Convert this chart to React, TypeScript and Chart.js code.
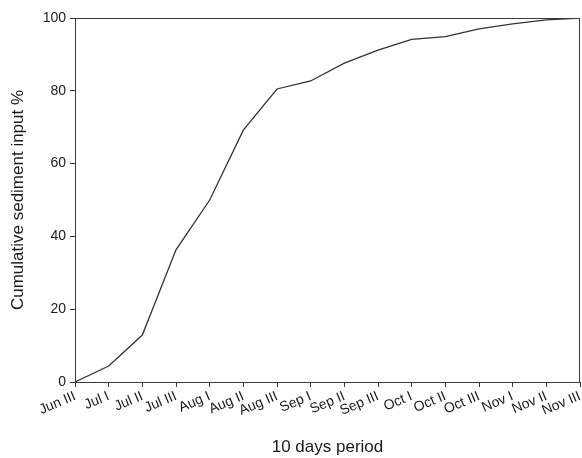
import React, { useEffect, useRef } from "react";
import { Chart, registerables } from "chart.js";

Chart.register(...registerables);

const periods = [
  "Jun III", "Jul I", "Jul II", "Jul III", "Aug I", "Aug II", "Aug III",
  "Sep I", "Sep II", "Sep III", "Oct I", "Oct II", "Oct III",
  "Nov I", "Nov II", "Nov III",
];
const cumulativeInput = [
  0, 4.4, 12.9, 36.3, 50, 69.2, 80.5, 82.7, 87.6, 91.2, 94.1, 94.9, 97.0, 98.4, 99.5, 100,
];
const yTicks = [0, 20, 40, 60, 80, 100];

const FONT = "'Liberation Sans', Arial, sans-serif";
const AXIS = "#3a3a3a";

const boxPlugin = {
  id: "frameBox",
  afterDatasetsDraw(chart: any) {
    const { ctx, chartArea } = chart;
    ctx.save();
    ctx.strokeStyle = AXIS;
    ctx.lineWidth = 1;
    ctx.beginPath();
    ctx.moveTo(chartArea.left, chartArea.top + 0.5);
    ctx.lineTo(chartArea.right, chartArea.top + 0.5);
    ctx.moveTo(chartArea.right - 0.5, chartArea.top);
    ctx.lineTo(chartArea.right - 0.5, chartArea.bottom);
    ctx.stroke();
    ctx.restore();
  },
};

export default function App() {
  const ref = useRef<HTMLCanvasElement>(null);
  useEffect(() => {
    document.body.style.margin = "0";
    const chart = new Chart(ref.current!, {
      type: "line",
      data: {
        labels: periods,
        datasets: [
          {
            data: cumulativeInput,
            borderColor: "#333333",
            borderWidth: 1.3,
            pointRadius: 0,
            fill: false,
            tension: 0,
          },
        ],
      },
      plugins: [boxPlugin],
      options: {
        animation: false,
        responsive: false,
        maintainAspectRatio: false,
        layout: { padding: { top: 18, right: 2, left: 0, bottom: 0 } },
        plugins: { legend: { display: false }, tooltip: { enabled: false } },
        scales: {
          x: {
            type: "category",
            offset: false,
            afterFit: (s: any) => {
              s.height = 76;
              s.paddingRight = 0;
              s.paddingLeft = 0;
            },
            grid: {
              drawOnChartArea: false,
              drawTicks: true,
              tickLength: 5,
              color: AXIS,
            },
            border: { color: AXIS, width: 1 },
            ticks: {
              autoSkip: false,
              minRotation: 23,
              maxRotation: 23,
              padding: 1,
              color: "#1a1a1a",
              font: { family: FONT, size: 14 },
            },
            title: {
              display: true,
              text: "10 days period",
              color: "#1a1a1a",
              font: { family: FONT, size: 17 },
              padding: { top: 0, bottom: 0 },
            },
          },
          y: {
            min: 0,
            max: 100,
            afterFit: (s: any) => { s.width = 75; },
            afterBuildTicks: (s: any) => { s.ticks = yTicks.map((v) => ({ value: v })); },
            grid: {
              drawOnChartArea: false,
              drawTicks: true,
              tickLength: 5,
              color: AXIS,
            },
            border: { color: AXIS, width: 1 },
            ticks: {
              padding: 4,
              color: "#1a1a1a",
              font: { family: FONT, size: 14 },
            },
            title: {
              display: true,
              text: "Cumulative sediment input %",
              color: "#1a1a1a",
              font: { family: FONT, size: 17 },
              padding: { top: 8, bottom: 0 },
            },
          },
        },
      },
    });
    return () => chart.destroy();
  }, []);
  return (
    <div style={{ width: 582, height: 458 }}>
      <canvas ref={ref} width={582} height={458} style={{ display: "block" }} />
    </div>
  );
}
